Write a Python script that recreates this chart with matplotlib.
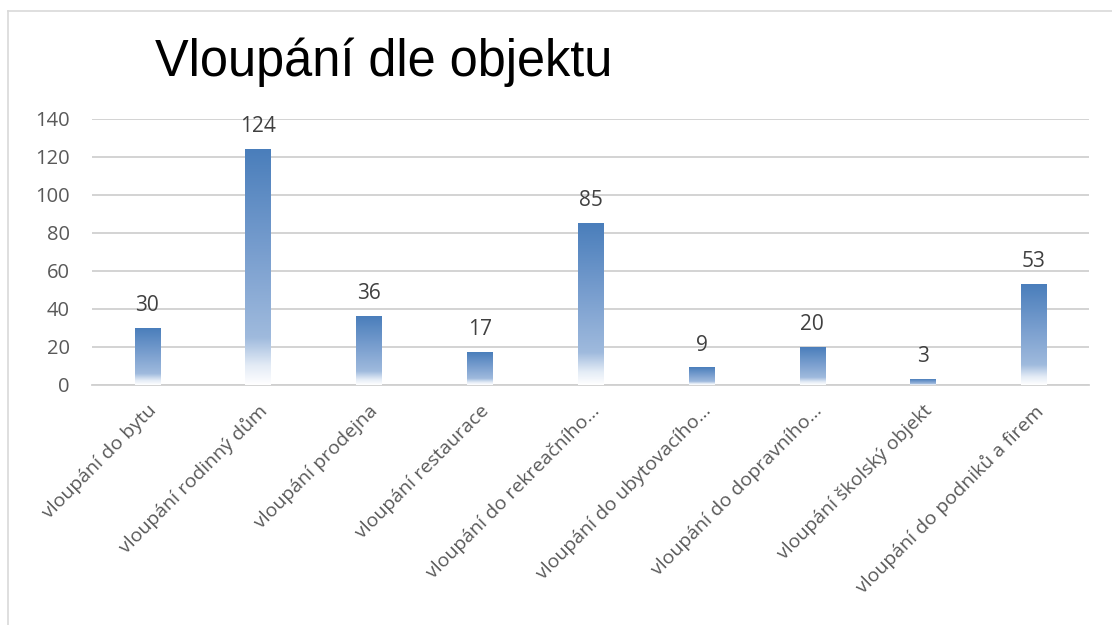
import matplotlib
matplotlib.use("Agg")
import matplotlib.pyplot as plt
import numpy as np
from matplotlib.colors import LinearSegmentedColormap
from matplotlib.lines import Line2D

# data
kategorie = ["vloupání do bytu", "vloupání rodinný dům", "vloupání prodejna",
             "vloupání restaurace", "vloupání do rekreačního…",
             "vloupání do ubytovacího…", "vloupání do dopravního…",
             "vloupání školský objekt", "vloupání do podniků a firem"]
pocty = [30, 124, 36, 17, 85, 9, 20, 3, 53]
yticks = [0, 20, 40, 60, 80, 100, 120, 140]

plt.rcParams["font.family"] = ["Open Sans", "DejaVu Sans"]

fig = plt.figure(figsize=(11.12, 6.25), dpi=100)
ax = fig.add_axes([0.0827, 0.384, 0.897, 0.4256])

# gradient bars (Excel style: dark blue top -> white bottom)
cmap = LinearSegmentedColormap.from_list(
    "excel", [(0.0, "#ffffff"), (0.08, "#e4ecf6"), (0.2, "#9fbadd"),
              (0.55, "#7a9fcf"), (1.0, "#4a7ebb")])
grad = np.linspace(0, 1, 256).reshape(-1, 1)
sirka = 0.23
x = np.arange(len(kategorie))
for xi, v in zip(x, pocty):
    ax.imshow(grad, extent=[xi - sirka / 2, xi + sirka / 2, 0, v], origin="lower",
              aspect="auto", cmap=cmap, zorder=3, interpolation="bilinear")
    ax.text(xi, v + 6.5, str(v), ha="center", va="bottom", fontsize=15,
            color="#404040", zorder=4)

ax.set_xlim(-0.5, len(kategorie) - 0.5)
ax.set_ylim(0, 140)
ax.set_yticks(yticks)
ax.set_xticks(x)
ax.set_xticklabels(kategorie, rotation=45, ha="right", rotation_mode="anchor",
                   fontsize=14, color="#595959")
ax.tick_params(axis="y", length=0, labelsize=14.5, labelcolor="#595959", pad=16)
ax.tick_params(axis="x", length=0, pad=12)
ax.grid(axis="y", color="#d0d0d0", linewidth=1.3, zorder=0)
for s in ["top", "right", "left"]:
    ax.spines[s].set_visible(False)
ax.spines["bottom"].set_color("#d0d0d0")
ax.spines["bottom"].set_linewidth(1.3)
ax.set_facecolor("none")

fig.text(0.139, 0.878, "Vloupání dle objektu", fontsize=36.4, color="black",
         family="Liberation Sans", ha="left", va="baseline")

# frame
fig.add_artist(Line2D([0.0072, 1.0], [0.9824, 0.9824], color="#d9d9d9", lw=1.2,
                      transform=fig.transFigure))
fig.add_artist(Line2D([0.0072, 0.0072], [0.0, 0.9824], color="#d9d9d9", lw=1.2,
                      transform=fig.transFigure))

fig.savefig("out.png", dpi=100)
